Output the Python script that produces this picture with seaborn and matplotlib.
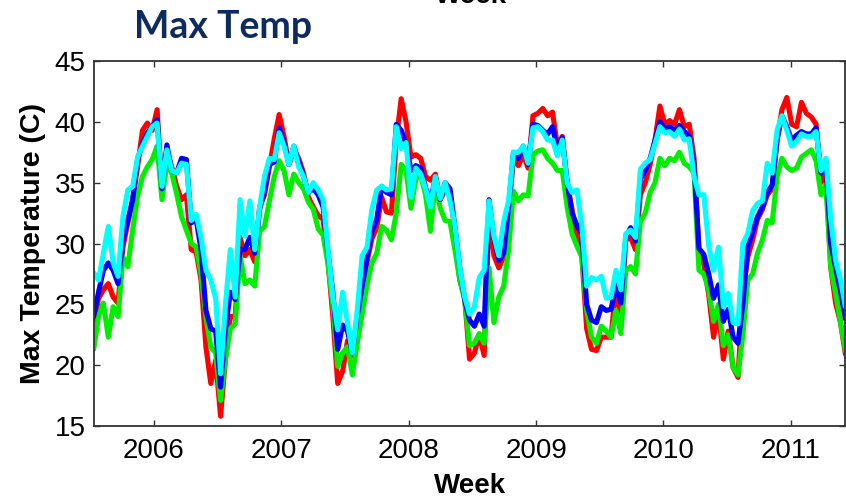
import matplotlib
matplotlib.use("Agg")
import matplotlib.pyplot as plt
import seaborn as sns
import pandas as pd

# ---- data (weekly max temperature, ~2-week sampling) ----
start_date = "2005-07-12"
step = "14D"

cyan_vals = [
    27.6, 27.0, 29.2, 31.4, 28.4, 27.3, 32.2, 34.4, 34.7, 37.1,
    38.0, 38.8, 39.6, 39.9, 34.7, 37.7, 36.0, 35.8, 36.6, 36.5,
    31.9, 32.4, 30.5, 27.8, 27.0, 25.5, 19.3, 25.0, 29.5, 25.6,
    33.6, 30.6, 33.5, 29.5, 33.0, 35.5, 37.0, 36.9, 39.1, 38.0,
    36.5, 38.0, 36.3, 35.5, 34.2, 35.0, 34.4, 33.6, 29.5, 25.6,
    22.9, 26.0, 23.5, 21.0, 24.5, 29.0, 29.7, 32.8, 34.4, 34.7,
    34.4, 34.5, 39.6, 37.8, 38.3, 33.8, 36.2, 35.7, 34.5, 33.0,
    35.5, 33.7, 35.0, 33.5, 31.5, 28.0, 25.6, 24.2, 24.8, 27.2,
    27.8, 33.5, 30.6, 29.0, 31.8, 33.5, 37.5, 37.5, 38.0, 36.6,
    39.5, 39.6, 39.2, 38.5, 38.5, 37.2, 38.5, 35.0, 34.2, 34.4,
    31.5, 26.5, 27.2, 27.0, 27.3, 25.5, 25.6, 27.8, 26.2, 30.8,
    31.1, 30.5, 36.1, 36.6, 36.9, 38.2, 39.6, 39.1, 39.2, 38.8,
    39.4, 38.5, 38.6, 35.5, 34.0, 34.0, 29.8, 27.8, 29.7, 24.8,
    25.9, 23.5, 23.4, 30.0, 30.8, 32.7, 33.3, 33.5, 36.6, 35.8,
    39.3, 40.5, 39.3, 38.0, 38.4, 39.0, 38.8, 38.8, 39.2, 36.0,
    37.0, 32.0, 28.6, 27.0, 24.8,
]

blue_vals = [
    24.0, 26.0, 27.8, 28.4, 27.8, 26.7, 30.3, 31.9, 33.6, 36.9,
    38.2, 39.1, 39.6, 40.2, 34.5, 38.1, 36.0, 35.8, 37.0, 36.9,
    31.7, 32.0, 29.5, 24.5, 23.0, 22.8, 18.2, 23.0, 26.0, 25.4,
    29.5, 29.5, 30.5, 29.2, 32.8, 34.3, 36.5, 36.7, 39.5, 38.3,
    36.5, 38.0, 36.8, 35.5, 34.2, 34.5, 34.0, 33.0, 29.3, 26.0,
    21.3, 23.3, 22.8, 21.0, 24.0, 26.5, 28.8, 31.0, 32.0, 34.7,
    34.2, 34.0, 39.8, 39.3, 38.2, 36.0, 36.4, 36.2, 34.6, 33.5,
    35.4, 33.6, 35.0, 34.5, 31.4, 28.0, 25.4, 23.7, 23.2, 24.2,
    23.2, 33.6, 30.4, 28.6, 29.2, 33.0, 37.5, 37.0, 38.0, 36.5,
    39.8, 39.7, 39.3, 39.0, 39.6, 37.7, 38.7, 35.0, 32.5, 31.5,
    30.8, 25.0, 23.7, 23.5, 24.8, 24.5, 24.6, 26.6, 25.1, 30.5,
    31.3, 30.2, 35.3, 36.0, 37.0, 38.5, 40.0, 39.4, 39.6, 39.3,
    39.7, 39.2, 38.8, 36.5, 29.6, 29.1, 27.5, 25.5, 26.6, 23.6,
    24.6, 22.3, 21.8, 25.1, 29.7, 31.0, 32.2, 33.0, 34.2, 34.8,
    38.5, 40.5, 39.6, 38.5, 38.9, 39.2, 39.0, 39.0, 39.5, 35.8,
    36.8, 30.0, 28.0, 26.0, 23.8,
]

red_vals = [
    23.4, 25.5, 26.2, 26.7, 25.6, 25.1, 29.7, 31.7, 33.6, 36.3,
    39.3, 39.9, 39.3, 41.0, 34.5, 37.7, 36.3, 34.7, 33.6, 34.0,
    29.5, 29.3, 27.0, 21.5, 18.5, 20.4, 15.8, 20.5, 24.0, 24.0,
    30.5, 29.0, 29.5, 28.5, 33.0, 34.0, 36.3, 38.6, 40.6, 38.8,
    36.5, 37.6, 37.0, 35.8, 33.8, 33.0, 32.3, 32.0, 28.6, 24.0,
    18.5, 19.5, 22.0, 20.8, 23.8, 26.0, 28.5, 30.4, 31.3, 33.8,
    32.6, 32.5, 38.5, 41.9, 40.0, 37.1, 37.3, 37.0, 35.5, 35.2,
    35.7, 33.6, 34.4, 34.3, 31.0, 27.0, 25.6, 20.5, 21.0, 22.5,
    20.8, 32.5, 29.0, 28.0, 28.9, 32.5, 37.0, 36.4, 37.3, 36.2,
    40.5, 40.7, 41.1, 40.5, 40.8, 38.0, 38.8, 35.0, 32.8, 30.6,
    29.0, 23.0, 21.3, 21.2, 22.3, 22.3, 22.3, 26.5, 24.0, 30.3,
    30.5, 29.5, 34.0, 35.0, 36.5, 38.5, 41.3, 39.8, 40.1, 39.8,
    41.0, 39.6, 39.8, 37.0, 29.3, 28.3, 25.8, 22.3, 24.5, 20.5,
    22.8, 19.8, 19.0, 26.0, 28.9, 30.3, 32.0, 32.8, 34.0, 34.5,
    38.5, 41.0, 42.0, 39.8, 39.6, 41.6, 40.7, 40.4, 39.8, 35.0,
    35.8, 28.0, 25.1, 23.5, 20.9,
]

green_vals = [
    21.3, 24.0, 25.1, 22.3, 24.8, 24.0, 28.9, 28.1, 31.1, 33.9,
    35.5, 36.3, 36.9, 38.0, 33.6, 36.6, 35.8, 34.1, 32.2, 31.1,
    30.0, 29.7, 27.5, 24.0, 21.5, 21.0, 17.1, 20.5, 23.0, 23.4,
    29.0, 26.7, 27.0, 26.5, 31.0, 31.4, 33.5, 35.5, 36.8, 36.0,
    34.0, 35.7, 35.0, 34.5, 33.4, 32.8, 31.2, 30.7, 28.3, 25.0,
    19.9, 21.0, 21.5, 19.2, 21.8, 24.2, 26.6, 28.4, 29.2, 31.4,
    31.1, 30.3, 32.5, 36.5, 36.0, 32.9, 35.3, 35.6, 34.0, 31.0,
    35.0, 32.9, 31.9, 31.8, 29.5, 27.0, 25.4, 21.6, 21.8, 22.6,
    21.8, 28.0, 23.5, 25.6, 26.5, 29.5, 34.3, 33.5, 34.0, 33.9,
    37.3, 37.6, 37.7, 37.0, 36.6, 36.0, 36.0, 33.0, 30.8, 29.8,
    28.9, 24.5, 22.3, 21.8, 23.2, 22.8, 22.3, 24.5, 22.6, 27.8,
    28.1, 27.5, 31.8, 32.5, 34.2, 35.0, 37.0, 36.4, 37.0, 36.8,
    37.5, 36.6, 36.3, 35.8, 27.8, 27.5, 26.2, 23.6, 25.0, 21.6,
    22.5, 19.8, 19.2, 22.5, 27.0, 27.5, 29.2, 30.3, 31.9, 31.7,
    35.5, 37.0, 36.3, 36.0, 36.2, 37.1, 37.4, 37.7, 36.8, 34.0,
    34.8, 28.0, 25.9, 23.5, 21.2,
]

series_names = ["red", "green", "blue", "cyan"]
series_colors = ["#FF0000", "#00EE00", "#0000FF", "#00FFFF"]
year_ticks = ["2006", "2007", "2008", "2009", "2010", "2011"]
y_ticks = [15, 20, 25, 30, 35, 40, 45]

# ---- build table ----
dates = pd.date_range(start_date, periods=len(cyan_vals), freq=step)
frames = []
for name, vals in zip(series_names, [red_vals, green_vals, blue_vals, cyan_vals]):
    frames.append(pd.DataFrame({"date": dates[:len(vals)], "temp": vals, "series": name}))
df = pd.concat(frames, ignore_index=True)

sns.set_style("white")
plt.rcParams["font.family"] = ["Liberation Sans", "DejaVu Sans"]
plt.rcParams["text.color"] = "black"
plt.rcParams["axes.labelcolor"] = "black"

fig = plt.figure(figsize=(8.46, 5.0), dpi=100)
ax = fig.add_axes([94 / 846, 1 - 426 / 500, 1 - 94 / 846 - 0.6 / 846, (426 - 61) / 500])

sns.lineplot(data=df, x="date", y="temp", hue="series", hue_order=series_names,
             palette=dict(zip(series_names, series_colors)), estimator=None,
             sort=False, legend=False, linewidth=3.7, ax=ax)

ax.set_xlim(pd.Timestamp("2005-07-13"), pd.Timestamp("2011-06-07"))
ax.set_ylim(15, 45)
ax.set_xticks([pd.Timestamp(f"{y}-01-01") for y in year_ticks])
ax.set_xticklabels(year_ticks)
ax.set_yticks(y_ticks)
ax.set_yticklabels([str(v) for v in y_ticks])

for s in ax.spines.values():
    s.set_visible(True)
    s.set_color("#333333")
    s.set_linewidth(1.3)

ax.tick_params(axis="both", which="major", direction="in", length=4.5, width=1.0,
               color="#333333", labelsize=20, labelcolor="black",
               top=True, right=True, bottom=True, left=True)
ax.tick_params(axis="x", pad=9)
ax.tick_params(axis="y", pad=6)

ax.set_xlabel("Week", fontsize=20, fontweight="bold", color="black", labelpad=6)
ax.set_ylabel("Max Temperature (C)", fontsize=20.5, fontweight="bold", color="black",
              labelpad=6)

fig.text(134 / 846, 1 - 38 / 500, "Max Temp", fontsize=27, fontweight="bold",
         color="#0E2B5F", family=["Lato", "DejaVu Sans"], ha="left", va="baseline")
fig.text(471 / 846, 1 - 3 / 500, "Week", fontsize=20, fontweight="bold",
         color="black", ha="center", va="baseline")

fig.savefig("out.png", dpi=100)
